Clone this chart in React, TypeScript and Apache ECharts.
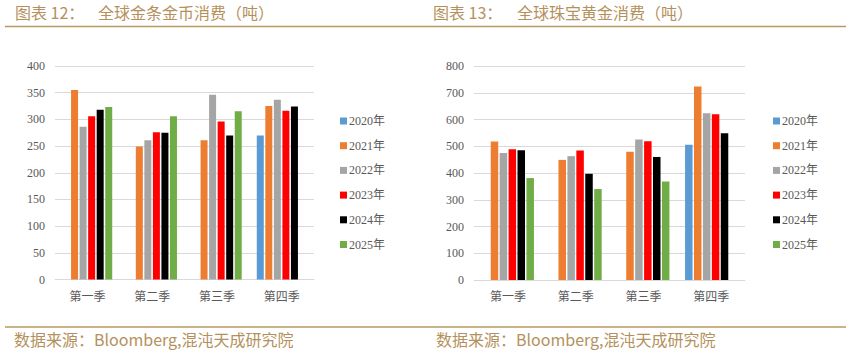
import React, { useEffect, useRef } from 'react';
import * as echarts from 'echarts';

const categories = ['第一季', '第二季', '第三季', '第四季'];
const years = ['2020年', '2021年', '2022年', '2023年', '2024年', '2025年'];
const colors = ['#5B9BD5', '#ED7D31', '#A5A5A5', '#FF0000', '#000000', '#70AD47'];

// 全球金条金币消费（吨）
const coin2020 = [null, null, null, 270];
const coin2021 = [355, 249, 261, 325];
const coin2022 = [286, 261, 346, 337];
const coin2023 = [306, 276, 296, 316];
const coin2024 = [318, 275, 270, 324];
const coin2025 = [323, 306, 315, null];

// 全球珠宝黄金消费（吨）
const jew2020 = [null, null, null, 506];
const jew2021 = [518, 449, 479, 723];
const jew2022 = [475, 463, 525, 623];
const jew2023 = [489, 484, 519, 620];
const jew2024 = [485, 397, 460, 549];
const jew2025 = [381, 340, 368, null];

const coinSeries = [coin2020, coin2021, coin2022, coin2023, coin2024, coin2025];
const jewSeries = [jew2020, jew2021, jew2022, jew2023, jew2024, jew2025];

const leftTitleA = '图表 12：';
const leftTitleB = '全球金条金币消费（吨）';
const rightTitleA = '图表 13：';
const rightTitleB = '全球珠宝黄金消费（吨）';
const sourceText = '数据来源：Bloomberg,混沌天成研究院';

const GOLD = '#B4915C';
const LINE = '#B8995F';
const LABEL = '#595959';
const GRIDC = '#D9D9D9';
const SERIF = "'Liberation Serif', 'Noto Sans CJK SC', serif";
const CJK = "'Noto Sans CJK SC', sans-serif";

export default function App() {
  const ref = useRef<HTMLDivElement>(null);
  useEffect(() => {
    document.body.style.margin = '0';
    const chart = echarts.init(ref.current as HTMLDivElement, null, { renderer: 'svg', width: 852, height: 353 });

    const mkX = (gi: number) => ({
      type: 'category',
      gridIndex: gi,
      data: categories,
      axisLine: { show: true, lineStyle: { color: GRIDC, width: 1 } },
      axisTick: { show: false },
      axisLabel: { color: LABEL, fontSize: 12, fontFamily: SERIF, margin: 11 },
    });
    const mkY = (gi: number, max: number, interval: number) => ({
      type: 'value',
      gridIndex: gi,
      min: 0,
      max,
      interval,
      axisLine: { show: false },
      axisTick: { show: false },
      splitLine: { lineStyle: { color: GRIDC, width: 1 } },
      axisLabel: { color: LABEL, fontSize: 12, fontFamily: SERIF, margin: 10 },
    });

    const series: any[] = [];
    coinSeries.forEach((d, i) => {
      series.push({
        type: 'bar', name: years[i], xAxisIndex: 0, yAxisIndex: 0, data: d,
        barWidth: 7, barGap: '22%', itemStyle: { color: colors[i] },
      });
    });
    jewSeries.forEach((d, i) => {
      series.push({
        type: 'bar', name: years[i], xAxisIndex: 1, yAxisIndex: 1, data: d,
        barWidth: 7.5, barGap: '19%', itemStyle: { color: colors[i] },
      });
    });

    const mkLegend = (left: number) => ({
      orient: 'vertical',
      left,
      top: 114,
      padding: 0,
      icon: 'rect',
      itemWidth: 7,
      itemHeight: 7,
      itemGap: 10.7,
      selectedMode: false,
      data: years,
      textStyle: { color: LABEL, fontSize: 12, fontFamily: SERIF, lineHeight: 14, padding: [0, 0, 0, -3] },
    });

    const option: any = {
      animation: false,
      backgroundColor: '#ffffff',
      grid: [
        { left: 55, top: 66, width: 259, height: 213.5 },
        { left: 474, top: 66, width: 271, height: 214 },
      ],
      xAxis: [mkX(0), mkX(1)],
      yAxis: [mkY(0, 400, 50), mkY(1, 800, 100)],
      legend: [mkLegend(340), mkLegend(773)],
      series,
      graphic: [
        { type: 'text', left: 15, top: 4, style: { text: leftTitleA, fill: GOLD, font: `16px ${CJK}` } },
        { type: 'text', left: 98, top: 4, style: { text: leftTitleB, fill: GOLD, font: `16px ${CJK}` } },
        { type: 'text', left: 433, top: 4, style: { text: rightTitleA, fill: GOLD, font: `16px ${CJK}` } },
        { type: 'text', left: 517, top: 4, style: { text: rightTitleB, fill: GOLD, font: `16px ${CJK}` } },
        { type: 'line', shape: { x1: 5, y1: 26.5, x2: 846, y2: 26.5 }, style: { stroke: LINE, lineWidth: 1.5 } },
        { type: 'line', shape: { x1: 5, y1: 327, x2: 846, y2: 327 }, style: { stroke: LINE, lineWidth: 1.5 } },
        { type: 'text', left: 14, top: 331, style: { text: sourceText, fill: GOLD, font: `16px ${CJK}` } },
        { type: 'text', left: 436, top: 331, style: { text: sourceText, fill: GOLD, font: `16px ${CJK}` } },
      ],
    };
    chart.setOption(option);
    return () => chart.dispose();
  }, []);
  return <div ref={ref} style={{ width: 852, height: 353 }} />;
}
